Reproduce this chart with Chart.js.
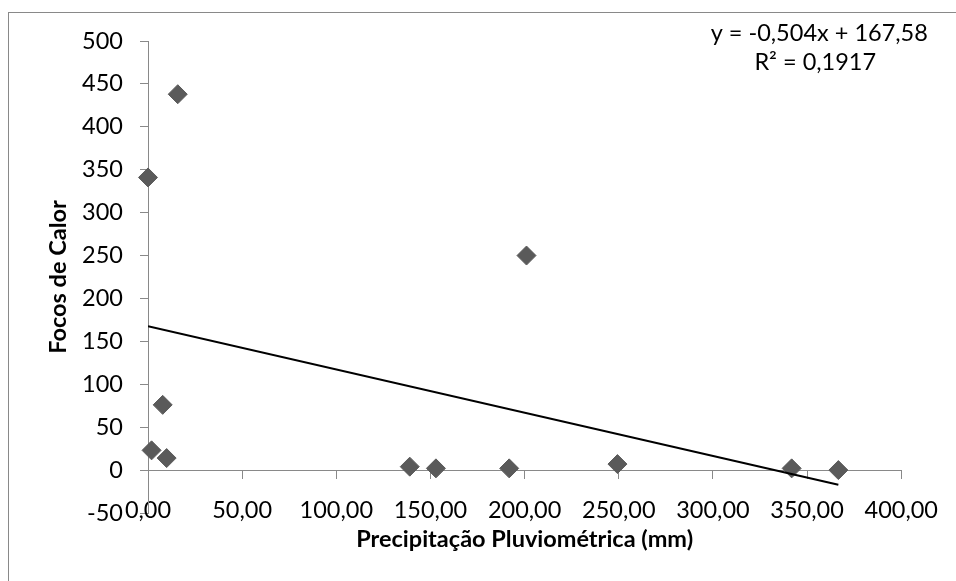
<!DOCTYPE html>
<html>
<head>
<meta charset="utf-8">
<script src="https://cdn.jsdelivr.net/npm/chart.js@4.4.1/dist/chart.umd.min.js"></script>
<style>
    html, body { margin: 0; padding: 0; background: #fff; }
    #wrap { position: relative; width: 956px; height: 581px; overflow: hidden; }
    #frame { position: absolute; left: 8px; top: 12px; width: 1000px; height: 700px;
             border-top: 1px solid #898989; border-left: 1px solid #898989; }
    #chart { position: absolute; left: 0; top: 0; }
</style>
</head>
<body>
<div id="wrap">
    <div id="frame"></div>
    <canvas id="chart" width="956" height="581"></canvas>
</div>
<script>
// Precipitação (mm) x Focos de calor
const precipitacao = [0, 15.8, 7.8, 1.9, 9.9, 201, 139, 152.9, 191.8, 249.3, 341.8, 366.6];
const focos = [341, 438, 76, 23, 14, 250, 4, 2, 2, 7, 2, 0];

// linha de tendência (equação exibida no gráfico)
const slope = -0.504;
const intercept = 167.58;
const r2 = 0.1917;
const trendX = [0, 366.6];

const xMin = 0, xMax = 400, xStep = 50;
const yMin = -50, yMax = 500, yStep = 50;

const FONT = 'Lato, "Open Sans", sans-serif';
const FONT_SIZE = 23.5;
const AXIS_COLOR = '#898989';

const fmt = (v, d) => v.toFixed(d).replace('.', ',');

const equationLabel = {
    id: 'equationLabel',
    afterDraw(chart) {
        const { ctx, chartArea } = chart;
        ctx.save();
        ctx.font = FONT_SIZE + 'px ' + FONT;
        ctx.fillStyle = '#000';
        ctx.textAlign = 'center';
        ctx.textBaseline = 'middle';
        const cx = chartArea.right - 82;
        const sign = intercept >= 0 ? ' + ' : ' - ';
        ctx.fillText('y = ' + fmt(slope, 3) + 'x' + sign + fmt(Math.abs(intercept), 2), cx, 33);
        ctx.fillText('R² = ' + fmt(r2, 4), cx - 4, 62);
        ctx.restore();
    }
};

new Chart(document.getElementById('chart'), {
    type: 'scatter',
    data: {
        datasets: [
            {
                label: 'Linear (Focos de Calor)',
                type: 'line',
                data: trendX.map(x => ({ x: x, y: slope * x + intercept })),
                borderColor: '#000',
                borderWidth: 2,
                pointRadius: 0,
                fill: false,
                order: 0
            },
            {
                label: 'Focos de Calor',
                data: precipitacao.map((x, i) => ({ x: x, y: focos[i] })),
                pointStyle: 'rectRot',
                pointRadius: 9.5,
                pointBackgroundColor: '#5a5a5a',
                pointBorderColor: '#5a5a5a',
                pointBorderWidth: 1,
                clip: false,
                order: 1
            }
        ]
    },
    options: {
        responsive: false,
        animation: false,
        devicePixelRatio: 1,
        layout: { padding: { left: 0, top: 41, right: 54, bottom: 68 } },
        plugins: {
            legend: { display: false },
            tooltip: { enabled: false }
        },
        scales: {
            x: {
                type: 'linear',
                position: { y: 0 },
                min: xMin,
                max: xMax,
                grid: { drawOnChartArea: false, drawTicks: true, tickLength: 8, color: AXIS_COLOR },
                border: { color: AXIS_COLOR, width: 1 },
                ticks: {
                    stepSize: xStep,
                    color: '#000',
                    font: { family: FONT, size: FONT_SIZE },
                    padding: 18,
                    maxRotation: 0,
                    callback: v => fmt(v, 2)
                },
                title: {
                    display: true,
                    text: 'Precipitação Pluviométrica (mm)',
                    color: '#000',
                    font: { family: FONT, size: FONT_SIZE, weight: 'bold' },
                    padding: { top: -17, bottom: 0 }
                }
            },
            y: {
                type: 'linear',
                position: 'left',
                min: yMin,
                max: yMax,
                afterFit(scale) { scale.width = 148; },
                grid: { drawOnChartArea: false, drawTicks: true, tickLength: 8, color: AXIS_COLOR },
                border: { color: AXIS_COLOR, width: 1 },
                ticks: {
                    stepSize: yStep,
                    color: '#000',
                    font: { family: FONT, size: FONT_SIZE },
                    padding: 17,
                    callback: v => String(v)
                },
                title: {
                    display: true,
                    text: 'Focos de Calor',
                    color: '#000',
                    font: { family: FONT, size: FONT_SIZE, weight: 'bold' },
                    padding: { top: 44, bottom: 0 }
                }
            }
        }
    },
    plugins: [equationLabel]
});
</script>
</body>
</html>
